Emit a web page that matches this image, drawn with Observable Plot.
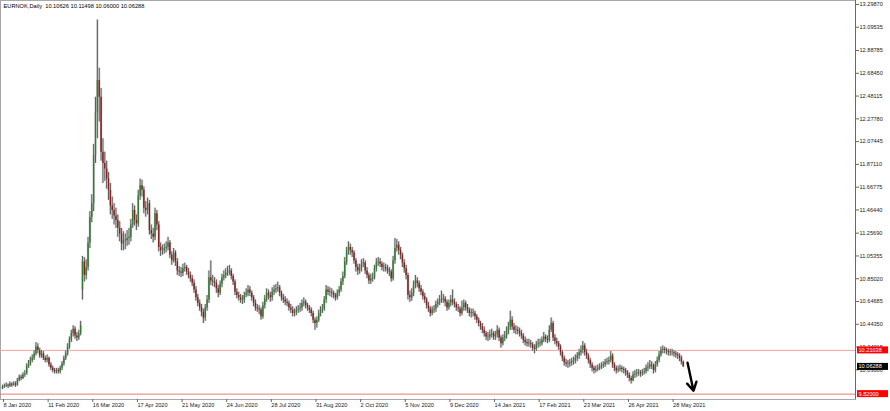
<!DOCTYPE html>
<html><head><meta charset="utf-8">
<script src="https://cdn.jsdelivr.net/npm/d3@7"></script>
<script src="https://cdn.jsdelivr.net/npm/@observablehq/plot@0.6"></script>
<style>
html,body{margin:0;padding:0;background:#fff;}
#chart{position:relative;width:890px;height:411px;overflow:hidden;}
</style></head><body><div id="chart"></div>
<script>
const symbolTitle = "EURNOK,Daily  10.10626 10.11498 10.06000 10.06288";
const firstOpen = 9.87;
const closes = [9.88,9.89,9.90,9.89,9.91,9.90,9.91,9.90,9.94,9.97,
9.96,9.99,10.00,10.07,10.09,10.12,10.14,10.18,10.24,10.21,
10.16,10.18,10.14,10.12,10.14,10.08,10.05,10.03,10.02,10.03,
10.02,10.05,10.09,10.14,10.18,10.24,10.30,10.36,10.40,10.34,
10.32,10.36,10.43,11.00,10.88,10.95,11.17,11.40,11.52,11.95,
12.33,12.62,12.47,11.98,11.88,11.83,11.74,11.64,11.50,11.46,
11.41,11.37,11.30,11.25,11.16,11.19,11.19,11.21,11.22,11.33,
11.46,11.37,11.34,11.59,11.68,11.64,11.48,11.46,11.52,11.28,
11.25,11.22,11.43,11.33,11.13,11.10,11.10,11.12,11.13,11.17,
11.06,11.01,11.08,11.00,10.92,10.91,10.90,10.94,10.95,10.91,
10.88,10.85,10.81,10.75,10.68,10.63,10.59,10.55,10.50,10.59,
10.66,10.86,10.83,10.82,10.81,10.76,10.72,10.80,10.86,10.88,
10.90,10.91,10.92,10.87,10.82,10.73,10.70,10.68,10.66,10.66,
10.70,10.72,10.75,10.72,10.68,10.63,10.59,10.58,10.57,10.51,
10.61,10.67,10.72,10.70,10.68,10.73,10.75,10.76,10.77,10.72,
10.68,10.66,10.64,10.63,10.59,10.57,10.54,10.55,10.57,10.58,
10.59,10.63,10.64,10.61,10.59,10.57,10.54,10.48,10.45,10.48,
10.54,10.57,10.58,10.66,10.75,10.73,10.73,10.72,10.70,10.68,
10.72,10.75,10.82,10.87,11.00,11.09,11.13,11.10,11.08,11.01,
10.95,10.92,10.94,10.98,10.99,10.92,10.88,10.83,10.85,10.86,
10.94,10.99,11.00,10.98,10.95,10.95,10.94,10.92,10.91,10.85,
11.01,11.12,11.15,11.10,11.06,10.99,10.94,10.88,10.70,10.68,
10.72,10.79,10.83,10.81,10.76,10.73,10.69,10.66,10.61,10.58,
10.54,10.57,10.58,10.62,10.64,10.66,10.66,10.67,10.64,10.59,
10.63,10.66,10.64,10.62,10.59,10.58,10.54,10.59,10.63,10.59,
10.57,10.54,10.54,10.54,10.51,10.48,10.45,10.42,10.39,10.36,
10.33,10.33,10.35,10.36,10.33,10.35,10.39,10.32,10.27,10.32,
10.34,10.38,10.42,10.48,10.42,10.39,10.39,10.38,10.36,10.34,
10.30,10.28,10.27,10.27,10.26,10.23,10.22,10.26,10.27,10.27,
10.30,10.33,10.31,10.30,10.39,10.45,10.32,10.29,10.27,10.24,
10.19,10.14,10.10,10.09,10.09,10.10,10.11,10.12,10.14,10.16,
10.19,10.21,10.25,10.19,10.16,10.12,10.08,10.05,10.03,10.04,
10.05,10.06,10.07,10.08,10.10,10.11,10.12,10.16,10.08,10.05,
10.03,10.04,10.05,10.04,10.03,10.01,9.99,9.96,9.94,9.99,
10.00,10.01,10.01,10.00,10.01,10.02,10.05,10.06,10.08,10.07,
10.03,10.08,10.12,10.17,10.21,10.22,10.21,10.20,10.19,10.19,
10.19,10.18,10.17,10.16,10.14,10.10626,10.06288];
const highs = [9.90,9.91,9.92,9.91,9.93,9.92,9.93,9.93,9.96,9.99,
9.99,10.01,10.03,10.09,10.12,10.15,10.17,10.21,10.28,10.27,
10.23,10.21,10.20,10.16,10.17,10.15,10.10,10.07,10.05,10.05,
10.05,10.07,10.11,10.16,10.21,10.27,10.33,10.39,10.43,10.42,
10.37,10.39,10.47,11.05,11.04,11.02,11.22,11.45,11.60,12.05,
12.47,13.16,12.73,12.55,12.10,11.98,11.90,11.80,11.70,11.58,
11.52,11.48,11.42,11.36,11.30,11.27,11.25,11.28,11.30,11.38,
11.52,11.50,11.42,11.64,11.74,11.73,11.67,11.54,11.57,11.55,
11.33,11.30,11.48,11.46,11.36,11.17,11.15,11.16,11.18,11.22,
11.19,11.09,11.12,11.10,11.03,10.96,10.95,10.98,10.99,10.97,
10.94,10.91,10.88,10.84,10.78,10.71,10.66,10.62,10.58,10.62,
10.70,10.92,11.01,10.88,10.86,10.84,10.79,10.83,10.89,10.92,
10.94,10.96,10.97,10.94,10.89,10.84,10.76,10.73,10.71,10.70,
10.73,10.76,10.79,10.78,10.74,10.70,10.66,10.62,10.61,10.59,
10.64,10.70,10.76,10.75,10.73,10.77,10.79,10.80,10.82,10.79,
10.74,10.71,10.69,10.67,10.65,10.62,10.60,10.58,10.60,10.61,
10.63,10.66,10.68,10.66,10.63,10.61,10.59,10.56,10.50,10.51,
10.57,10.60,10.62,10.69,10.79,10.78,10.77,10.76,10.74,10.72,
10.75,10.78,10.85,10.91,11.04,11.13,11.18,11.16,11.13,11.10,
11.03,10.98,10.98,11.02,11.03,11.01,10.95,10.90,10.89,10.90,
10.97,11.03,11.04,11.03,11.00,10.99,10.98,10.97,10.95,10.93,
11.05,11.21,11.20,11.18,11.13,11.08,11.02,10.97,10.90,10.74,
10.76,10.83,10.88,10.86,10.83,10.79,10.75,10.72,10.68,10.64,
10.60,10.60,10.61,10.65,10.67,10.70,10.74,10.71,10.69,10.66,
10.66,10.70,10.75,10.67,10.64,10.62,10.60,10.65,10.66,10.65,
10.62,10.59,10.58,10.58,10.56,10.53,10.50,10.47,10.45,10.42,
10.38,10.37,10.39,10.40,10.38,10.38,10.43,10.41,10.34,10.35,
10.38,10.42,10.46,10.56,10.51,10.45,10.43,10.42,10.41,10.39,
10.36,10.33,10.31,10.31,10.30,10.28,10.26,10.29,10.31,10.31,
10.33,10.37,10.35,10.34,10.43,10.50,10.47,10.35,10.32,10.29,
10.26,10.21,10.16,10.13,10.12,10.13,10.14,10.15,10.17,10.19,
10.22,10.25,10.29,10.27,10.22,10.18,10.14,10.10,10.07,10.07,
10.08,10.09,10.10,10.11,10.13,10.14,10.15,10.20,10.18,10.10,
10.07,10.07,10.08,10.07,10.06,10.05,10.03,10.01,9.98,10.02,
10.03,10.04,10.04,10.03,10.04,10.05,10.08,10.10,10.12,10.11,
10.09,10.11,10.15,10.20,10.24,10.25,10.24,10.23,10.22,10.22,
10.22,10.21,10.20,10.19,10.18,10.16,10.11498];
const lows = [9.86,9.87,9.88,9.87,9.88,9.88,9.89,9.88,9.89,9.93,
9.94,9.95,9.97,9.99,10.05,10.07,10.10,10.12,10.16,10.18,
10.14,10.14,10.12,10.10,10.10,10.06,10.03,10.01,10.00,10.00,
10.00,10.00,10.03,10.07,10.12,10.16,10.22,10.28,10.33,10.31,
10.29,10.30,10.34,10.66,10.82,10.84,10.92,11.12,11.35,11.45,
11.88,12.10,12.25,11.90,11.70,11.72,11.65,11.55,11.42,11.38,
11.33,11.30,11.22,11.18,11.10,11.10,11.11,11.14,11.15,11.18,
11.30,11.32,11.28,11.31,11.55,11.58,11.43,11.40,11.42,11.24,
11.20,11.17,11.19,11.28,11.09,11.05,11.06,11.07,11.08,11.10,
11.03,10.97,10.99,10.96,10.88,10.87,10.86,10.87,10.91,10.88,
10.85,10.82,10.78,10.72,10.65,10.60,10.56,10.51,10.45,10.47,
10.56,10.63,10.79,10.78,10.77,10.72,10.68,10.70,10.77,10.83,
10.85,10.87,10.88,10.84,10.79,10.70,10.67,10.65,10.63,10.62,
10.63,10.68,10.69,10.69,10.65,10.60,10.56,10.55,10.53,10.48,
10.49,10.58,10.64,10.66,10.64,10.65,10.70,10.72,10.73,10.69,
10.65,10.63,10.61,10.60,10.56,10.54,10.51,10.51,10.52,10.54,
10.55,10.56,10.60,10.58,10.56,10.54,10.51,10.45,10.39,10.41,
10.46,10.51,10.54,10.56,10.63,10.70,10.69,10.68,10.67,10.65,
10.66,10.69,10.73,10.79,10.85,10.97,11.06,11.06,11.04,10.98,
10.91,10.88,10.89,10.91,10.95,10.89,10.85,10.80,10.80,10.82,
10.84,10.91,10.96,10.95,10.92,10.91,10.91,10.89,10.87,10.82,
10.83,10.98,11.09,11.06,11.02,10.95,10.90,10.84,10.66,10.64,
10.65,10.69,10.76,10.77,10.73,10.70,10.66,10.63,10.58,10.55,
10.51,10.52,10.54,10.55,10.59,10.61,10.63,10.63,10.60,10.56,
10.57,10.60,10.61,10.59,10.56,10.55,10.51,10.52,10.56,10.56,
10.54,10.51,10.50,10.51,10.48,10.45,10.42,10.39,10.36,10.33,
10.30,10.29,10.30,10.32,10.30,10.30,10.32,10.29,10.23,10.25,
10.29,10.31,10.35,10.39,10.39,10.36,10.35,10.35,10.33,10.31,
10.27,10.25,10.24,10.24,10.23,10.20,10.18,10.20,10.23,10.24,
10.25,10.28,10.28,10.27,10.28,10.37,10.29,10.26,10.24,10.21,
10.16,10.11,10.07,10.06,10.05,10.06,10.07,10.08,10.09,10.11,
10.13,10.16,10.18,10.16,10.13,10.09,10.05,10.02,10.00,10.01,
10.02,10.03,10.04,10.05,10.06,10.08,10.08,10.10,10.05,10.02,
10.00,10.01,10.02,10.01,10.00,9.98,9.96,9.93,9.91,9.93,
9.96,9.97,9.98,9.97,9.98,9.99,10.00,10.02,10.04,10.04,
10.00,10.01,10.06,10.10,10.15,10.18,10.18,10.17,10.16,10.16,
10.16,10.15,10.14,10.13,10.11,10.08,10.06];
const gapOpens = [[43, 10.75]];
const dateTickIndex = [0,24,48,72,96,120,144,168,192,216,240,264,288,312,336,360];
const dateTickLabels = ["8 Jan 2020","11 Feb 2020","16 Mar 2020","17 Apr 2020","21 May 2020","24 Jun 2020","28 Jul 2020","31 Aug 2020","2 Oct 2020","5 Nov 2020","9 Dec 2020","14 Jan 2021","17 Feb 2021","23 Mar 2021","26 Apr 2021","28 May 2021"];
const priceTicks = [13.29870,13.09535,12.88785,12.68450,12.48115,12.27780,12.07445,11.87110,11.66775,11.46440,11.25690,11.05355,10.85020,10.64685,10.44350,10.24015,10.03680];
const levelLines = [10.21038, 9.82000];
const priceTags = [
  {value: 10.21038, label: "10.21038", bg: "#ff0000"},
  {value: 10.06288, label: "10.06288", bg: "#000000"},
  {value: 9.82000, label: "9.82000", bg: "#ff0000"}
];
const arrowAnno = [{x1: 368.3, y1: 10.10, x2: 371.5, y2: 9.85}];

// build candles
const gapMap = new Map(gapOpens);
const bars = closes.map((c, i) => {
  const open = gapMap.has(i) ? gapMap.get(i) : (i === 0 ? firstOpen : closes[i - 1]);
  const top = Math.max(open, c), bot = Math.min(open, c);
  return {i, open, close: c, high: highs[i], low: lows[i],
          bTop: top - bot < 0.006 ? bot + 0.006 : top, bBot: bot, up: c >= open};
});

const FONT = "Liberation Sans, Arial, sans-serif";
const chart = Plot.plot({
  width: 890, height: 411,
  marginLeft: 0, marginRight: 35, marginTop: 0, marginBottom: 12,
  style: {fontFamily: FONT, background: "#fff", color: "#222"},
  x: {domain: [-1.0753, 458.6]},
  y: {domain: [9.7720, 13.3344]},
  marks: [
    Plot.frame({stroke: "#a8a8a8"}),
    Plot.ruleY([levelLines[0]], {stroke: "#f5a0a0", strokeWidth: 1}),
    Plot.ruleY([levelLines[1]], {stroke: "#ef7676", strokeWidth: 1}),
    Plot.ruleX(bars, {x: "i", y1: "low", y2: "high", stroke: "#dcdcdc", strokeWidth: 2.6}),
    Plot.ruleX(bars, {x: "i", y1: "low", y2: "high", stroke: "#4d4d4d", strokeWidth: 0.9}),
    Plot.ruleX(bars.filter(d => d.up), {x: "i", y1: "bBot", y2: "bTop", stroke: "#2f7d2f", strokeWidth: 1.4}),
    Plot.ruleX(bars.filter(d => !d.up), {x: "i", y1: "bBot", y2: "bTop", stroke: "#8e1b1b", strokeWidth: 1.4}),
    Plot.arrow(arrowAnno, {x1: "x1", y1: "y1", x2: "x2", y2: "y2", stroke: "#000", strokeWidth: 2.4, headLength: 9}),
    Plot.axisY({anchor: "right", ticks: priceTicks, tickSize: 3, tickPadding: 1, tickFormat: d => d.toFixed(5), fontSize: 5.6, stroke: "#666", fill: "#222"}),
    Plot.axisX({anchor: "bottom", ticks: dateTickIndex, tickSize: 3, tickPadding: 1, textAnchor: "start", dx: 1,
      tickFormat: d => dateTickLabels[dateTickIndex.indexOf(d)], fontSize: 5.6, stroke: "#666", fill: "#222"}),
    Plot.ruleX([458.6], {stroke: "#6a6a6a"}),
    Plot.text([symbolTitle], {frameAnchor: "top-left", text: d => d, dx: 3, dy: 3, lineAnchor: "top", textAnchor: "start", fontSize: 5.7, fill: "#000"})
  ]
});
document.getElementById("chart").appendChild(chart);

// price tags on the right axis, placed through the plot's own y scale
const sy = chart.scale("y");
const svg = d3.select(chart);
const g = svg.append("g").attr("font-family", FONT).attr("font-size", 5.6).attr("text-anchor", "start");
priceTags.forEach(t => {
  const y = sy.apply(t.value);
  g.append("rect").attr("x", 857).attr("y", y - 3.5).attr("width", 31).attr("height", 7).attr("fill", t.bg);
  g.append("text").attr("x", 858.5).attr("y", y).attr("dy", "0.35em").attr("text-anchor", "start").attr("fill", "#fff").text(t.label);
});
</script>
</body></html>
